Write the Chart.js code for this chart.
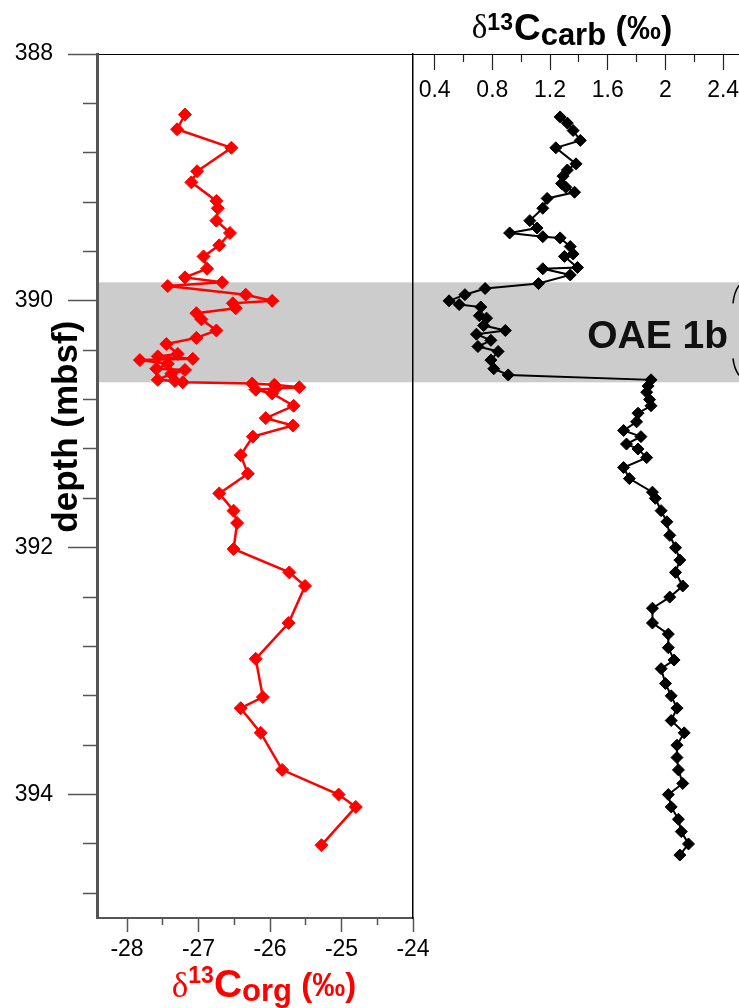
<!DOCTYPE html>
<html>
<head>
<meta charset="utf-8">
<script src="https://cdn.jsdelivr.net/npm/chart.js@4.4.1/dist/chart.umd.min.js"></script>
<style>
  html, body { margin: 0; padding: 0; background: #fff; }
  #wrap { position: relative; width: 739px; height: 1008px; overflow: hidden; }
  #wrap canvas { position: absolute; left: 0; top: 0; }
</style>
</head>
<body>
<div id="wrap">
  <canvas id="orgChart" width="739" height="1008"></canvas>
  <!-- the carbonate panel continues past the right edge of the figure -->
  <canvas id="carbChart" width="779" height="1008"></canvas>
</div>
<script>
// ---- Depth axis (mbsf), shared by both panels ----
const DEPTH_MIN = 388;
const DEPTH_MAX = 395;
const depthMajorTicks = [388, 390, 392, 394];
const depthMinorTicks = [388.4, 388.8, 389.2, 389.6, 390.4, 390.8, 391.2, 391.6,
                         392.4, 392.8, 393.2, 393.6, 394.4, 394.8];

// OAE 1b interval (mbsf)
const oaeInterval = [389.85, 390.66];
const oaeLabel = 'OAE 1b';

// ---- δ13C organic carbon ----
const orgMin = -28.42;
const orgMax = -24;
const orgMajorTicks = [-28, -27, -26, -25, -24];
const orgMinorTicks = [-27.5, -26.5, -25.5, -24.5];
const depthOrg = [388.49, 388.61, 388.76, 388.95, 389.04, 389.19, 389.25, 389.35, 389.45, 389.55,
                  389.64, 389.74, 389.81, 389.85, 389.88, 389.95, 390.00, 390.02, 390.06, 390.10,
                  390.15, 390.24, 390.30, 390.35, 390.43, 390.45, 390.47, 390.48, 390.51, 390.55,
                  390.56, 390.59, 390.64, 390.65, 390.66, 390.67, 390.68, 390.70, 390.71, 390.72,
                  390.75, 390.85, 390.95, 391.01, 391.10, 391.25, 391.40, 391.56, 391.70, 391.80,
                  392.01, 392.20, 392.31, 392.61, 392.90, 393.21, 393.30, 393.50, 393.80, 394.00,
                  394.10, 394.41];
const d13Corg = [-27.19, -27.30, -26.54, -27.02, -27.10, -26.75, -26.73, -26.75, -26.56, -26.71,
                 -26.93, -26.88, -27.19, -26.67, -27.43, -26.34, -25.97, -26.52, -26.48, -27.03,
                 -26.96, -26.75, -27.03, -27.45, -27.29, -27.57, -27.08, -27.82, -27.43, -27.59,
                 -27.19, -27.38, -27.57, -27.33, -27.22, -26.25, -25.94, -25.59, -25.92, -26.20,
                 -25.97, -25.67, -26.06, -25.68, -26.24, -26.41, -26.31, -26.71, -26.51, -26.46,
                 -26.51, -25.73, -25.51, -25.74, -26.20, -26.10, -26.41, -26.13, -25.83, -25.04,
                 -24.80, -25.28];

// ---- δ13C carbonate ----
const carbMin = 0.25;
const carbMax = 2.51;
const carbMajorTicks = [0.4, 0.8, 1.2, 1.6, 2, 2.4];
const carbMinorTicks = [0.6, 1.0, 1.4, 1.8, 2.2];
const depthCarb = [388.51, 388.56, 388.62, 388.70, 388.76, 388.89, 388.94, 388.99, 389.05, 389.08,
                   389.12, 389.17, 389.25, 389.35, 389.41, 389.45, 389.48, 389.49, 389.56, 389.62,
                   389.64, 389.73, 389.74, 389.79, 389.86, 389.90, 389.95, 390.00, 390.03, 390.05,
                   390.12, 390.14, 390.20, 390.24, 390.27, 390.32, 390.37, 390.41, 390.48, 390.55,
                   390.60, 390.64, 390.69, 390.74, 390.80, 390.85, 390.91, 390.98, 391.05, 391.10,
                   391.16, 391.20, 391.27, 391.35, 391.44, 391.55, 391.60, 391.70, 391.79, 391.90,
                   392.00, 392.10, 392.20, 392.31, 392.40, 392.49, 392.61, 392.70, 392.81, 392.91,
                   392.98, 393.10, 393.20, 393.30, 393.40, 393.50, 393.60, 393.70, 393.80, 393.91,
                   394.00, 394.10, 394.20, 394.30, 394.40, 394.49];
const d13Ccarb = [1.27, 1.32, 1.36, 1.41, 1.24, 1.38, 1.32, 1.29, 1.28, 1.31,
                  1.37, 1.18, 1.15, 1.06, 1.11, 0.92, 1.15, 1.27, 1.34, 1.36,
                  1.30, 1.39, 1.15, 1.34, 1.12, 0.75, 0.61, 0.50, 0.57, 0.72,
                  0.71, 0.76, 0.74, 0.89, 0.69, 0.79, 0.70, 0.84, 0.79, 0.81,
                  0.91, 1.90, 1.88, 1.87, 1.89, 1.90, 1.81, 1.80, 1.71, 1.83,
                  1.73, 1.81, 1.87, 1.71, 1.75, 1.91, 1.93, 1.97, 2.01, 2.03,
                  2.07, 2.10, 2.07, 2.12, 2.03, 1.91, 1.91, 2.02, 2.02, 2.06,
                  1.97, 2.00, 2.04, 2.08, 2.04, 2.13, 2.08, 2.08, 2.09, 2.12,
                  2.02, 2.04, 2.09, 2.11, 2.16, 2.10];

// ---- Styling ----
const SANS = '"Liberation Sans", Arial, sans-serif';
const SERIF = '"Liberation Serif", "Times New Roman", serif';
const AXIS_GREY = '#555555';
const BAND_GREY = '#cccccc';
const TICK_FONT = { size: 23 };
const FIGURE_RIGHT = 739;          // right edge of the visible figure
Chart.defaults.font.family = SANS;
Chart.defaults.color = '#000';

const useTicks = list => scale => { scale.ticks = list.map(v => ({ value: v })); };
// keep overhanging tick labels from shrinking the plot area
const noOverhang = scale => { scale.paddingLeft = 0; scale.paddingRight = 0; };

// Shaded OAE interval behind everything in the plot area
const oaeBandPlugin = {
  id: 'oaeBand',
  beforeDraw(chart) {
    const { ctx, chartArea: a, scales: { y } } = chart;
    const top = y.getPixelForValue(oaeInterval[0]);
    const bottom = y.getPixelForValue(oaeInterval[1]);
    ctx.save();
    ctx.fillStyle = BAND_GREY;
    ctx.fillRect(a.left, top, a.right - a.left, bottom - top);
    ctx.restore();
  }
};

// Draws a title made of runs with different fonts / baseline shifts
function drawRichText(ctx, cx, baseline, runs, color) {
  ctx.save();
  ctx.fillStyle = color;
  ctx.textAlign = 'left';
  ctx.textBaseline = 'alphabetic';
  let total = 0;
  for (const r of runs) { ctx.font = r.font; total += ctx.measureText(r.text).width + (r.gap || 0); }
  let x = cx - total / 2;
  for (const r of runs) {
    ctx.font = r.font;
    ctx.fillText(r.text, x, baseline + (r.dy || 0));
    x += ctx.measureText(r.text).width + (r.gap || 0);
  }
  ctx.restore();
}

// Depth label and the δ13Corg title for the left panel
const orgTitlesPlugin = {
  id: 'orgTitles',
  afterDraw(chart) {
    const { ctx, chartArea: a, scales: { y } } = chart;
    ctx.save();
    ctx.translate(a.left - 20, y.getPixelForValue(391.02));
    ctx.rotate(-Math.PI / 2);
    ctx.font = 'bold 35px ' + SANS;
    ctx.fillStyle = '#000';
    ctx.textAlign = 'center';
    ctx.textBaseline = 'alphabetic';
    ctx.fillText('depth (mbsf)', 0, 0);
    ctx.restore();

    drawRichText(ctx, (a.left + a.right) / 2 + 9, a.bottom + 79, [
      { text: 'δ', font: '35px ' + SERIF },
      { text: '13', font: 'bold 23px ' + SANS, dy: -14 },
      { text: 'C', font: 'bold 39px ' + SANS },
      { text: 'org', font: 'bold 31px ' + SANS, dy: 4 },
      { text: ' (‰)', font: 'bold 33px ' + SANS, dy: -1 }
    ], '#ff0000');
  }
};

// OAE label, interval bracket and δ13Ccarb title for the right panel
const carbTitlesPlugin = {
  id: 'carbTitles',
  afterDraw(chart) {
    const { ctx, chartArea: a, scales: { y } } = chart;
    const top = y.getPixelForValue(oaeInterval[0]);
    const bottom = y.getPixelForValue(oaeInterval[1]);
    const edge = FIGURE_RIGHT;
    ctx.save();
    ctx.font = 'bold 39px ' + SANS;
    ctx.fillStyle = '#111';
    ctx.textAlign = 'right';
    ctx.textBaseline = 'alphabetic';
    ctx.fillText(oaeLabel, edge - 11, (top + bottom) / 2 + 16);

    ctx.strokeStyle = '#000';
    ctx.lineWidth = 1.5;
    ctx.beginPath();
    ctx.moveTo(edge, top + 3);
    ctx.quadraticCurveTo(edge - 5, top + 10, edge - 6, top + 21);
    ctx.moveTo(edge - 6, bottom - 24);
    ctx.quadraticCurveTo(edge - 5, bottom - 14, edge, bottom - 7);
    ctx.stroke();
    ctx.restore();

    drawRichText(ctx, 572, a.top - 14, [
      { text: 'δ', font: '33px ' + SERIF, dy: -2 },
      { text: '13', font: 'bold 23px ' + SANS, dy: -10, gap: 1 },
      { text: 'C', font: 'bold 37px ' + SANS },
      { text: 'carb', font: 'bold 31px ' + SANS, dy: 5 },
      { text: ' (‰)', font: 'bold 34px ' + SANS, dy: -1 }
    ], '#000');
  }
};

const commonOptions = {
  responsive: false,
  animation: false,
  events: [],
  plugins: { legend: { display: false }, tooltip: { enabled: false } }
};

// ---- Left panel: δ13Corg ----
new Chart(document.getElementById('orgChart'), {
  type: 'scatter',
  data: {
    datasets: [{
      data: depthOrg.map((d, i) => ({ x: d13Corg[i], y: d })),
      showLine: true,
      borderColor: '#ff0000',
      backgroundColor: '#ff0000',
      borderWidth: 2.5,
      pointStyle: 'rectRot',
      pointRadius: 6.5,
      pointHoverRadius: 6.5,
      pointBorderWidth: 1,
      pointBorderColor: '#ff0000',
      pointBackgroundColor: '#ff0000'
    }]
  },
  options: {
    ...commonOptions,
    layout: { padding: { top: 54, right: 326, bottom: 0, left: 0 } },
    scales: {
      x: {
        type: 'linear', axis: 'x', position: 'bottom', weight: 1,
        min: orgMin, max: orgMax,
        afterBuildTicks: useTicks(orgMajorTicks),
        afterFit: s => { s.height = 90; noOverhang(s); },
        grid: { drawOnChartArea: false, tickLength: 14, tickColor: AXIS_GREY, tickWidth: 1.5 },
        border: { color: AXIS_GREY, width: 2 },
        ticks: { font: TICK_FONT, padding: 4, autoSkip: false, maxRotation: 0, callback: v => String(v) }
      },
      xMinor: {
        type: 'linear', axis: 'x', position: 'bottom', weight: 0,
        min: orgMin, max: orgMax,
        afterBuildTicks: useTicks(orgMinorTicks),
        afterFit: s => { s.height = 0; noOverhang(s); },
        grid: { drawOnChartArea: false, tickLength: 7, tickColor: AXIS_GREY, tickWidth: 1.5 },
        border: { display: false },
        ticks: { display: false }
      },
      xTop: {
        type: 'linear', axis: 'x', position: 'top',
        min: orgMin, max: orgMax,
        afterFit: s => { s.height = 0; noOverhang(s); },
        grid: { display: false },
        border: { display: true, color: '#000', width: 1 },
        ticks: { display: false }
      },
      y: {
        type: 'linear', axis: 'y', position: 'left', weight: 1, reverse: true,
        min: DEPTH_MIN, max: DEPTH_MAX,
        afterBuildTicks: useTicks(depthMajorTicks),
        afterFit: s => { s.width = 97; },
        grid: { drawOnChartArea: false, tickLength: 29, tickColor: AXIS_GREY, tickWidth: 1.5 },
        border: { color: AXIS_GREY, width: 3 },
        ticks: { font: TICK_FONT, padding: 15, autoSkip: false, callback: v => String(v) }
      },
      yMinor: {
        type: 'linear', axis: 'y', position: 'left', weight: 0, reverse: true,
        min: DEPTH_MIN, max: DEPTH_MAX,
        afterBuildTicks: useTicks(depthMinorTicks),
        afterFit: s => { s.width = 0; },
        grid: { drawOnChartArea: false, tickLength: 14, tickColor: AXIS_GREY, tickWidth: 1.5 },
        border: { display: false },
        ticks: { display: false }
      }
    }
  },
  plugins: [oaeBandPlugin, orgTitlesPlugin]
});

// ---- Right panel: δ13Ccarb ----
const carbCanvas = document.getElementById('carbChart');
new Chart(carbCanvas, {
  type: 'scatter',
  data: {
    datasets: [{
      data: depthCarb.map((d, i) => ({ x: d13Ccarb[i], y: d })),
      showLine: true,
      borderColor: '#000',
      backgroundColor: '#000',
      borderWidth: 2,
      pointStyle: 'rectRot',
      pointRadius: 6,
      pointHoverRadius: 6,
      pointBorderWidth: 1,
      pointBorderColor: '#000',
      pointBackgroundColor: '#000'
    }]
  },
  options: {
    ...commonOptions,
    layout: { padding: { top: 54, right: carbCanvas.width - FIGURE_RIGHT, bottom: 90, left: 413 } },
    scales: {
      y: {
        type: 'linear', axis: 'y', position: 'left', reverse: true,
        min: DEPTH_MIN, max: DEPTH_MAX,
        afterFit: s => { s.width = 0; },
        grid: { display: false },
        border: { display: true, color: '#000', width: 1.5 },
        ticks: { display: false }
      },
      x: {
        type: 'linear', axis: 'x', position: { y: DEPTH_MIN },
        min: carbMin, max: carbMax,
        afterBuildTicks: useTicks(carbMajorTicks),
        afterFit: noOverhang,
        grid: { drawOnChartArea: false, tickLength: 15, tickColor: '#222', tickWidth: 1.2 },
        border: { color: '#000', width: 1 },
        ticks: { font: TICK_FONT, padding: 8, autoSkip: false, maxRotation: 0, callback: v => String(v) }
      },
      xMinor: {
        type: 'linear', axis: 'x', position: { y: DEPTH_MIN },
        min: carbMin, max: carbMax,
        afterBuildTicks: useTicks(carbMinorTicks),
        afterFit: noOverhang,
        grid: { drawOnChartArea: false, tickLength: 8, tickColor: '#222', tickWidth: 1.2 },
        border: { display: false },
        ticks: { display: false }
      }
    }
  },
  plugins: [oaeBandPlugin, carbTitlesPlugin]
});
</script>
</body>
</html>
